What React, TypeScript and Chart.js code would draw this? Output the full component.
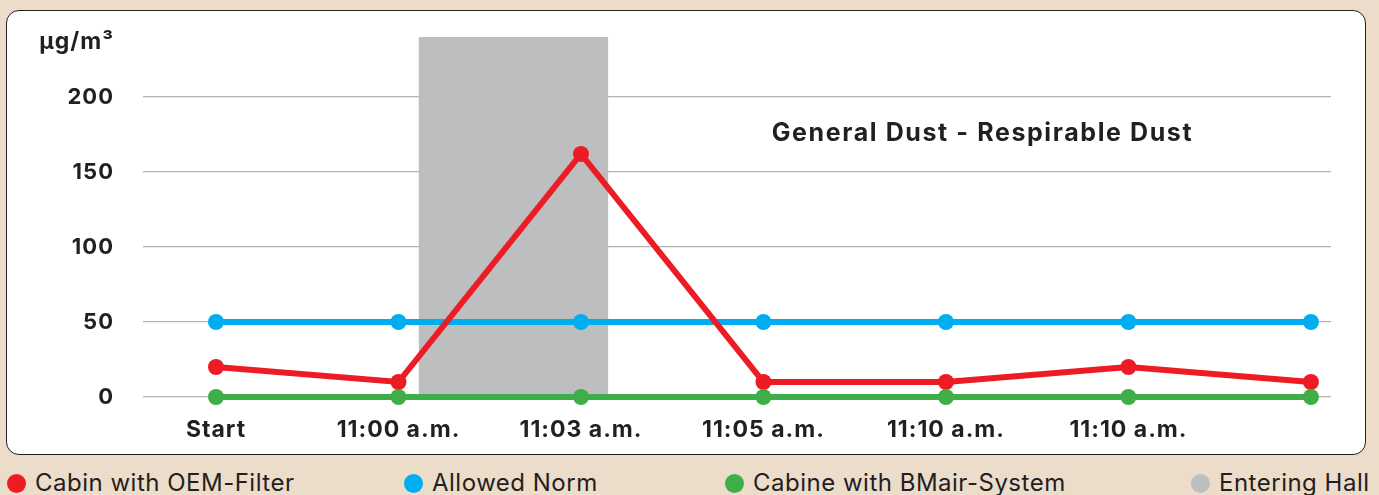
import React, { useEffect, useRef } from "react";
import { Chart, registerables } from "chart.js";

Chart.register(...registerables);

const categories = ["Start", "11:00 a.m.", "11:03 a.m.", "11:05 a.m.", "11:10 a.m.", "11:10 a.m.", ""];
const oemFilter = [20, 10, 162, 10, 10, 20, 10];
const allowedNorm = [50, 50, 50, 50, 50, 50, 50];
const bmairSystem = [0, 0, 0, 0, 0, 0, 0];
const enteringHallSpan = [1.11, 2.15];
const enteringHallTop = 240;
const yTicks = [0, 50, 100, 150, 200];
const unitLabel = "µg/m³";
const chartTitle = "General Dust - Respirable Dust";

const RED = "#ed1c24";
const BLUE = "#00aeef";
const GREEN = "#3fae49";
const GRAY = "#bcbec0";
const TEXT = "#231f20";
const BG = "#ecdcca";
const FONT = "Inter, 'Open Sans', sans-serif";

const legendItems = [
  { label: "Cabin with OEM-Filter", color: RED, left: 7 },
  { label: "Allowed Norm", color: BLUE, left: 404 },
  { label: "Cabine with BMair-System", color: GREEN, left: 725 },
  { label: "Entering Hall", color: GRAY, left: 1191 },
];

const toPoints = (arr: number[]) => arr.map((y, i) => ({ x: i, y }));

export default function App() {
  const canvasRef = useRef<HTMLCanvasElement | null>(null);

  useEffect(() => {
    if (!canvasRef.current) return;
    const textPlugin = {
      id: "textPlugin",
      beforeUpdate(chart: any) {
        chart.ctx.letterSpacing = "1px";
      },
      beforeDraw(chart: any) {
        chart.ctx.letterSpacing = "1px";
      },
      afterDraw(chart: any) {
        const { ctx, chartArea, scales } = chart;
        ctx.save();
        ctx.fillStyle = TEXT;
        ctx.letterSpacing = "1px";
        ctx.font = `700 23px ${FONT}`;
        ctx.textAlign = "right";
        ctx.textBaseline = "middle";
        ctx.fillText(unitLabel, chartArea.left - 29, 42);
        ctx.letterSpacing = "1.6px";
        ctx.font = `700 25px ${FONT}`;
        ctx.textAlign = "center";
        ctx.fillText(chartTitle, scales.x.getPixelForValue(4.2), scales.y.getPixelForValue(176));
        ctx.restore();
      },
    };
    const lineDs = (label: string, data: number[], color: string, order: number) => ({
      label,
      data: toPoints(data),
      borderColor: color,
      backgroundColor: color,
      borderWidth: 6,
      pointRadius: 8,
      pointHoverRadius: 8,
      pointBorderWidth: 0,
      pointBackgroundColor: color,
      tension: 0,
      fill: false,
      clip: false,
      order,
    });
    const chart = new Chart(canvasRef.current, {
      type: "line",
      data: {
        datasets: [
          {
            label: "Entering Hall",
            data: enteringHallSpan.map((x) => ({ x, y: enteringHallTop })),
            borderWidth: 0,
            borderColor: GRAY,
            backgroundColor: GRAY,
            pointRadius: 0,
            fill: "origin",
            order: 10,
          } as any,
          lineDs("Allowed Norm", allowedNorm, BLUE, 3),
          lineDs("Cabin with OEM-Filter", oemFilter, RED, 2),
          lineDs("Cabine with BMair-System", bmairSystem, GREEN, 1),
        ],
      },
      options: {
        animation: false,
        responsive: false,
        maintainAspectRatio: false,
        layout: { padding: { top: 37, right: 48, left: 0, bottom: 0 } },
        plugins: { legend: { display: false }, tooltip: { enabled: false } },
        scales: {
          x: {
            type: "linear",
            min: -0.4,
            max: 6.11,
            grid: { display: false, drawTicks: false },
            border: { display: false },
            ticks: {
              stepSize: 1,
              includeBounds: false,
              padding: 19,
              color: TEXT,
              font: { family: FONT, size: 23, weight: "bold" },
              maxRotation: 0,
              autoSkip: false,
              callback: (v: any) => (Number.isInteger(v) ? categories[v] ?? "" : ""),
            },
            afterBuildTicks: (scale: any) => {
              scale.ticks = categories.map((_, i) => ({ value: i }));
            },
            afterFit: (scale: any) => {
              scale.height = 63;
            },
          },
          y: {
            type: "linear",
            min: 0,
            max: enteringHallTop,
            grid: { color: "#b3b3b3", lineWidth: 1.3, drawTicks: true, tickLength: 29, tickColor: "rgba(0,0,0,0)" },
            border: { display: false },
            ticks: {
              includeBounds: false,
              padding: 0,
              color: TEXT,
              font: { family: FONT, size: 22, weight: "bold" },
            },
            afterBuildTicks: (scale: any) => {
              scale.ticks = yTicks.map((value) => ({ value }));
            },
            afterFit: (scale: any) => {
              scale.width = 143;
            },
          },
        },
      } as any,
      plugins: [textPlugin],
    });
    return () => chart.destroy();
  }, []);

  return (
    <div style={{ position: "fixed", left: 0, top: 0, width: 1379, height: 495, background: BG, overflow: "hidden", fontFamily: FONT }}>
      <div
        style={{
          position: "absolute",
          left: 6,
          top: 10,
          width: 1360,
          height: 445,
          boxSizing: "border-box",
          border: `1.5px solid ${TEXT}`,
          borderRadius: 13,
          background: "#fff",
        }}
      />
      <canvas ref={canvasRef} width={1379} height={460} style={{ position: "absolute", left: 0, top: 0, width: 1379, height: 460 }} />
      {legendItems.map((item) => (
        <div
          key={item.label}
          style={{ position: "absolute", left: item.left, top: 470, display: "flex", alignItems: "center", whiteSpace: "nowrap" }}
        >
          <span style={{ width: 19, height: 19, borderRadius: "50%", background: item.color, display: "inline-block", marginRight: 9 }} />
          <span style={{ fontSize: 24, color: TEXT, lineHeight: "26px", letterSpacing: "0.5px" }}>{item.label}</span>
        </div>
      ))}
    </div>
  );
}
